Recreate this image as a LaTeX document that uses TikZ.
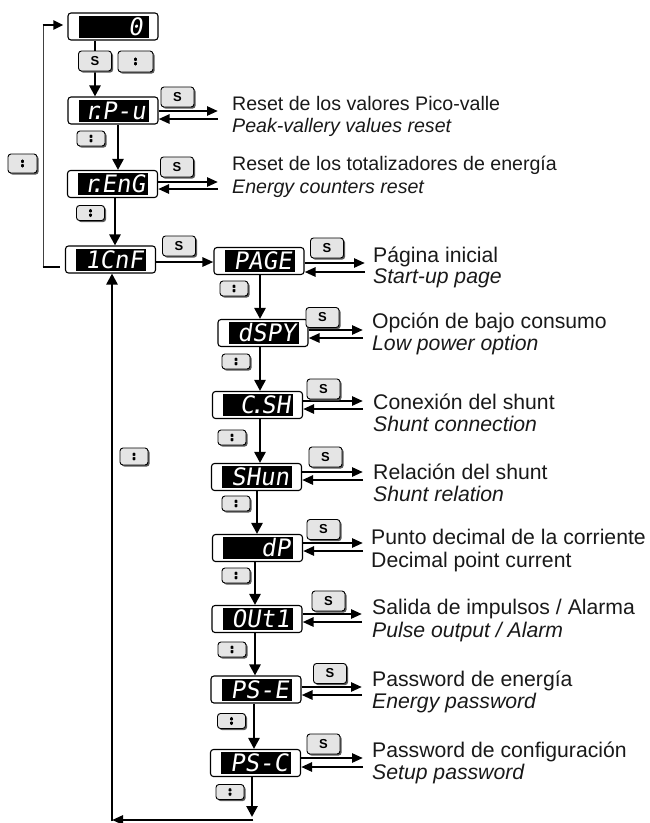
\documentclass[tikz,border=0pt]{standalone}
\usepackage{fontspec}
\setmainfont{Liberation Sans}
\newfontfamily\segfont{DejaVu Sans Mono}[FakeSlant=0.15]
\usetikzlibrary{arrows.meta,shadows}
\newcommand\dpt{\kern-0.38em{.}\kern-0.1em}
\newcommand\dptc{\kern-0.2em{.}\kern-0.12em}
\tikzset{
 arr/.style={line width=2.6pt, -{Triangle[length=11pt,width=11pt]}},
 harr/.style={line width=2.6pt, -{Triangle[length=11pt,width=9pt]}},
 dispout/.style={draw, line width=1.1pt, rounded corners=3pt, fill=white, minimum width=90pt, minimum height=27pt, inner sep=0pt},
 dispin/.style={fill=black, text=white, minimum width=70pt, minimum height=22pt, inner xsep=3pt, inner ysep=0pt, font=\segfont\fontsize{24}{24}\selectfont},
 btn/.style={draw, line width=0.9pt, rounded corners=3pt, fill=black!10, drop shadow={shadow xshift=1.6pt, shadow yshift=-1.6pt, fill=black!65, opacity=1}, inner sep=0pt},
 sbtn/.style={btn, minimum width=33pt, minimum height=20pt, font=\bfseries\fontsize{13}{13}\selectfont},
 ud/.style={btn, minimum width=28pt, minimum height=15pt,
   path picture={
     \fill[black] ([shift={(-2.8pt,0.4pt)}]path picture bounding box.center) -- ++(5.6pt,0pt) -- ++(-2.8pt,5.2pt) -- cycle;
     \fill[black] ([shift={(-2.8pt,-0.4pt)}]path picture bounding box.center) -- ++(5.6pt,0pt) -- ++(-2.8pt,-5.2pt) -- cycle;
   }},
 labt/.style={anchor=base west, inner sep=0pt, text=black!90, font=\fontsize{19.6}{22}\selectfont},
 labti/.style={labt, font=\fontsize{19.6}{22}\selectfont\itshape},
 lab/.style={anchor=base west, inner sep=0pt, text=black!90, font=\fontsize{21.2}{22}\selectfont},
 labi/.style={lab, font=\fontsize{21.2}{22}\selectfont\itshape},
}
\newcommand\disp[4]{%
 \node[dispout] (#1) at (#2,#3) {};
 \node[dispin] (#1-in) at ([xshift=0.5pt]#1.center) {\makebox[64pt][r]{#4}};}
\newcommand\hpair[4]{%
 \coordinate (#1-r) at (#4,#2);
 \coordinate (#1-l) at (#4,#3);
 \draw[harr] (#1.east |- #1-r) -- (#1-r);
 \draw[harr] (#1-l) -- (#1.east |- #1-l);}
\begin{document}
\begin{tikzpicture}[x=1pt,y=-1pt]
\useasboundingbox (0,0) rectangle (649,823);
% displays
\disp{t0}{113}{26.5}{0\kern3pt}
\disp{rPu}{113}{110.5}{r\dpt P-u}
\disp{rEnG}{112.5}{184}{r\dpt EnG}
\disp{cnf}{110.5}{259.5}{1CnF}
\disp{page}{259}{261}{PAGE}
\disp{dspy}{263}{333}{dSPY}
\disp{csh}{257.5}{405}{C\dptc SH}
\disp{shun}{256.5}{477}{SHun}
\disp{dp}{257.5}{548}{dP}
\disp{out}{257}{619}{OUt1}
\disp{pse}{256}{689.5}{PS-E}
\disp{psc}{255.5}{763}{PS-C}
% vertical arrows
\draw[arr] (t0.south -| 95,0) -- (rPu.north -| 95,0);
\draw[arr] (rPu.south -| 118,0) -- (rEnG.north -| 118,0);
\draw[arr] (rEnG.south -| 115,0) -- (cnf.north -| 115,0);
\draw[arr] (page.south -| 260,0) -- (dspy.north -| 260,0);
\draw[arr] (dspy.south -| 260,0) -- (csh.north -| 260,0);
\draw[arr] (csh.south -| 260,0) -- (shun.north -| 260,0);
\draw[arr] (shun.south -| 257,0) -- (dp.north -| 257,0);
\draw[arr] (dp.south -| 255,0) -- (out.north -| 255,0);
\draw[arr] (out.south -| 255,0) -- (pse.north -| 255,0);
\draw[arr] (pse.south -| 254,0) -- (psc.north -| 254,0);
% bottom loop
\coordinate (bD) at (252,817);
\coordinate (bR) at (253.3,820);
\coordinate (bL) at (112,820);
\coordinate (bU) at (112,821.3);
\draw[arr] (psc.south -| bD) -- (bD);
\draw[harr] (bR) -- (bL);
\draw[arr] (bU) -- (cnf.south -| bU);
% left loop
\coordinate (lt) at (43,25);
\coordinate (lb) at (43,267);
\draw[line width=0.8pt, black!75] (lb) -- (lt);
\draw[line width=2.4pt, -{Triangle[length=10pt,width=9pt]}, shorten >=4pt] ([xshift=-0.4pt]lt) -- (t0.west |- lt);
\draw[line width=2.4pt, shorten >=5pt] ([xshift=-0.4pt]lb) -- (cnf.west |- lb);
% 1CnF to PAGE
\draw[harr] (cnf.east |- 0,262) -- (page.west |- 0,262);
% horizontal pairs
\hpair{rPu}{111}{119}{218}
\hpair{rEnG}{182}{189}{218}
\hpair{page}{263}{272}{365}
\hpair{dspy}{330}{338}{363}
\hpair{csh}{401}{409}{363}
\hpair{shun}{472}{480}{363}
\hpair{dp}{543}{551}{363}
\hpair{out}{614}{622}{362}
\hpair{pse}{687}{695}{362}
\hpair{psc}{758}{767}{363}
% buttons
\node[sbtn] (s0) at (95,61) {S};
\node[ud, minimum width=35pt, minimum height=21pt] (u0) at (135.5,61.5) {};
\node[sbtn] (s1) at (177.5,97) {S};
\node[ud] (u1) at (91,138.5) {};
\node[sbtn] (s2) at (177,167) {S};
\node[ud] (u2) at (90.5,213) {};
\node[sbtn] (s3) at (179,246) {S};
\node[ud, minimum width=29pt, minimum height=19pt] (uL) at (22.5,163.5) {};
\node[ud, minimum height=17pt] (uV) at (134,456.5) {};
\node[sbtn] (s4) at (327,248) {S};
\node[ud] (u4) at (234,288.5) {};
\node[sbtn] (s5) at (322.5,317.5) {S};
\node[ud] (u5) at (236,361.5) {};
\node[sbtn] (s6) at (323.5,389) {S};
\node[ud] (u6) at (232,437.5) {};
\node[sbtn] (s7) at (325.5,457) {S};
\node[ud] (u7) at (236,503.5) {};
\node[sbtn] (s8) at (323.5,529.5) {S};
\node[ud] (u8) at (236,575.5) {};
\node[sbtn] (s9) at (328.5,601) {S};
\node[ud] (u9) at (232,649.5) {};
\node[sbtn] (s10) at (330,673.5) {S};
\node[ud] (u10) at (231.5,721) {};
\node[sbtn] (s11) at (323.5,744) {S};
\node[ud] (u11) at (230,792) {};
% labels
\node[labt] (l1a) at (232,110) {Reset de los valores Pico-valle};
\node[labti] (l1b) at (232,132) {Peak-vallery values reset};
\node[labt] (l2a) at (232,170) {Reset de los totalizadores de energía};
\node[labti] (l2b) at (232,193) {Energy counters reset};
\node[lab] (l3a) at (373,262) {Página inicial};
\node[labi] (l3b) at (373,283) {Start-up page};
\node[lab] (l4a) at (372,328) {Opción de bajo consumo};
\node[labi] (l4b) at (372,350) {Low power option};
\node[lab] (l5a) at (373,409) {Conexión del shunt};
\node[labi] (l5b) at (373,431) {Shunt connection};
\node[lab] (l6a) at (373,479) {Relación del shunt};
\node[labi] (l6b) at (373,501) {Shunt relation};
\node[lab] (l7a) at (371,544) {Punto decimal de la corriente};
\node[lab] (l7b) at (371,567) {Decimal point current};
\node[lab] (l8a) at (372,614) {Salida de impulsos / Alarma};
\node[labi] (l8b) at (372,637) {Pulse output / Alarm};
\node[lab] (l9a) at (372,686) {Password de energía};
\node[labi] (l9b) at (372,708) {Energy password};
\node[lab] (l10a) at (372,757) {Password de configuración};
\node[labi] (l10b) at (372,779) {Setup password};
\end{tikzpicture}
\end{document}
